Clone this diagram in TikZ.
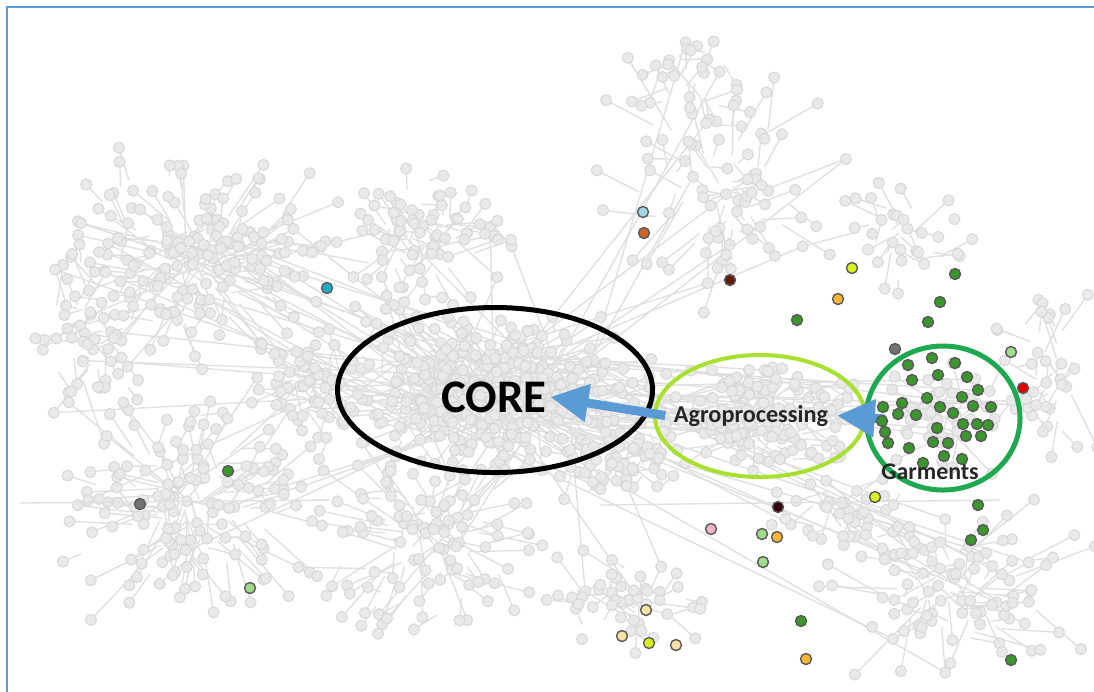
\documentclass[tikz,border=0pt]{standalone}
\usepackage{fontspec}
\usetikzlibrary{shapes.geometric,arrows.meta}
\newfontfamily\calib{Carlito}

\definecolor{framblue}{RGB}{91,155,213}
\definecolor{netgrey}{RGB}{233,233,233}
\definecolor{netline}{RGB}{224,224,224}
\definecolor{netrim}{RGB}{216,216,216}
\definecolor{agrolime}{RGB}{168,224,46}
\definecolor{garmgreen}{RGB}{30,168,80}
\definecolor{dgreen}{RGB}{58,150,45}
\definecolor{lgreen}{RGB}{160,220,140}
\definecolor{dgrey}{RGB}{115,115,115}
\definecolor{dotred}{RGB}{230,0,0}
\definecolor{dotlime}{RGB}{218,240,30}
\definecolor{dotamber}{RGB}{245,182,50}
\definecolor{dotorange}{RGB}{205,100,30}
\definecolor{dotsky}{RGB}{160,215,230}
\definecolor{dotcyan}{RGB}{30,175,200}
\definecolor{dotbrown}{RGB}{95,30,10}
\definecolor{dotmaroon}{RGB}{50,5,15}
\definecolor{dotpink}{RGB}{240,180,200}
\definecolor{dotcream}{RGB}{250,226,165}

\tikzset{
    netedge/.style={color=netline, line width=0.4pt},
    netdot/.style={fill=netgrey, draw=netrim, line width=0.3pt},
    coldot/.style={draw=black!65, line width=0.4pt},
    bluearrow/.style={color=framblue, line width=0.9mm, -{Triangle[length=3.8mm,width=3.6mm]}},
    ring/.style={ellipse, draw, fill=none, inner sep=0pt}
}

% grey background network: seed, cx, cy, sx, sy, count
\newif\ifnetdots
\newcommand{\netcluster}[6]{%
    \pgfmathsetseed{#1}
    \foreach \k in {1,...,#6}{
        \pgfmathsetmacro{\px}{#2+#4*(rand+rand)/2}
        \pgfmathsetmacro{\py}{#3+#5*(rand+rand)/2}
        \pgfmathsetmacro{\pf}{0.3+0.5*rnd}
        \pgfmathsetmacro{\qx}{#2+(\px-#2)*\pf+18*rand}
        \pgfmathsetmacro{\qy}{#3+(\py-#3)*\pf+18*rand}
        \pgfmathsetmacro{\pl}{rnd}
        \pgfmathsetmacro{\lx}{495+110*rand}
        \pgfmathsetmacro{\ly}{392+50*rand}
        \ifnetdots
            \filldraw[netdot] (\px,\py) circle (0.55mm);
        \else
            \draw[netedge] (\px,\py) -- (\qx,\qy);
            \ifdim\pl pt<0.08pt
                \draw[netedge] (\px,\py) -- (\lx,\ly);
            \fi
        \fi
    }
}
\newcommand{\netlayer}{%
    \netcluster{11}{200}{260}{150}{120}{175}
    \netcluster{12}{90}{330}{70}{120}{45}
    \netcluster{13}{495}{390}{165}{88}{330}
    \netcluster{14}{760}{415}{110}{58}{150}
    \netcluster{15}{190}{500}{150}{130}{145}
    \netcluster{16}{430}{540}{140}{110}{110}
    \netcluster{17}{720}{190}{140}{140}{70}
    \netcluster{18}{690}{80}{70}{60}{25}
    \netcluster{19}{420}{240}{110}{80}{75}
    \netcluster{20}{950}{590}{150}{100}{90}
    \netcluster{21}{1040}{370}{60}{100}{35}
    \netcluster{22}{630}{610}{90}{70}{45}
    \netcluster{23}{940}{418}{60}{60}{40}
    \netcluster{24}{610}{460}{70}{50}{50}
    \netcluster{25}{320}{380}{70}{80}{60}
    \netcluster{26}{840}{520}{80}{50}{40}
    \netcluster{27}{900}{240}{100}{80}{30}
}

\begin{document}
\begin{tikzpicture}[x=0.1mm, y=-0.1mm]

        \useasboundingbox (0,0) rectangle (1094,691);
        \clip (0,0) rectangle (1094,691);

        % Rahmen
        \draw[color=framblue, line width=0.2mm] (7,7) rectangle (1120,720);

        % Netz
        \begin{scope}
            \netdotsfalse
            \netlayer
            \netdotstrue
            \netlayer
            % lange Kanten
            \draw[netedge] (600,505) -- (1000,500);
            \draw[netedge] (20,503) -- (330,500);
        \end{scope}

        % Ringe
        \node[ring, color=black, line width=0.5mm, minimum width=31.5mm, minimum height=16.5mm] (core) at (495,390) {};
        \node[ring, color=agrolime, line width=0.4mm, minimum width=21mm, minimum height=12.2mm] (agro) at (760,416) {};
        \node[ring, color=garmgreen, line width=0.5mm, minimum width=15.4mm, minimum height=14.4mm] (garm) at (943,418) {};

        % Texte
        \node[anchor=base, inner sep=0.3mm, font=\calib\bfseries\fontsize{13.3}{15}\selectfont] (coretxt) at (494,412) {CORE};
        \node[anchor=base, inner sep=0.8mm, text=black!85, font=\calib\bfseries\fontsize{6.9}{8}\selectfont] (agrotxt) at (751,422) {Agroprocessing};

        % Pfeile
        \coordinate (garmtip) at (885,419);
        \draw[bluearrow] (agrotxt.west) -- (coretxt.east);
        \draw[bluearrow] (garmtip) -- (agrotxt.east);

        % Garments Punkte
        \foreach \x/\y in {908/365, 932/358, 955/363, 912/380, 938/375, 967/377, 978/390,
                           927/398, 962/397, 902/403, 940/407, 973/406, 991/407, 883/407,
                           898/414, 916/415, 953/413, 882/421, 963/424, 977/424, 988/425,
                           937/428, 885/432, 966/436, 981/436, 888/443, 933/442, 948/443,
                           909/448, 944/456, 962/459, 923/463}
            \filldraw[coldot, fill=dgreen] (\x,\y) circle (0.55mm);

        \node[anchor=base, inner sep=0pt, text=black!85, font=\calib\bfseries\fontsize{6.8}{8}\selectfont] (garmtxt) at (930,479) {Garments};

        % einzelne Punkte
        \foreach \x/\y/\c in {895/349/dgrey, 1011/352/lgreen, 1023/388/dotred, 875/497/dotlime,
                              978/505/dgreen, 643/212/dotsky, 644/233/dotorange, 730/280/dotbrown,
                              852/268/dotlime, 838/299/dotamber, 797/320/dgreen, 955/274/dgreen,
                              940/302/dgreen, 928/322/dgreen, 327/288/dotcyan, 228/471/dgreen,
                              140/504/dgrey, 250/588/lgreen, 778/507/dotmaroon, 711/529/dotpink,
                              762/534/lgreen, 777/537/dotamber, 983/530/dgreen, 971/540/dgreen,
                              763/562/lgreen, 646/610/dotcream, 622/636/dotcream, 649/643/dotlime,
                              676/645/dotcream, 801/621/dgreen, 806/659/dotamber, 1011/660/dgreen}
            \filldraw[coldot, fill=\c] (\x,\y) circle (0.55mm);

\end{tikzpicture}
\end{document}
